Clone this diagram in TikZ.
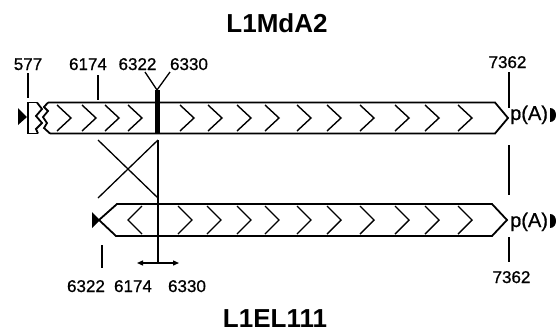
\documentclass[tikz,border=0pt]{standalone}
\usepackage{fontspec}
\setmainfont{Liberation Sans}
\newfontfamily\numfont[FakeBold=0.8]{Liberation Sans}
\usetikzlibrary{arrows.meta}
\begin{document}
\begin{tikzpicture}[x=1pt,y=-1pt,
  bar/.style={line width=1.8pt, line join=miter},
  chev/.style={line width=1.4pt},
  tick/.style={line width=1.3pt},
  num/.style={font=\numfont\fontsize{17}{17}\selectfont, anchor=base, inner sep=0pt},
  ttl/.style={font=\fontsize{26}{26}\selectfont\bfseries, anchor=base, inner sep=0pt},
  pa/.style={font=\numfont\fontsize{20}{20}\selectfont, anchor=base west, inner sep=0pt}]
\useasboundingbox (0,0) rectangle (557,333);
% titles
\node[ttl] (t1) at (277,32) {L1MdA2};
\node[ttl] (t2) at (275,327) {L1EL111};
% ---- top element
\draw[bar] (48,102.5) -- (495,102.5) -- (508,118) -- (495,133.5) -- (50,133.5);
\draw[bar] (48,102.5) -- (44,107) -- (48,111) -- (43,117) -- (47,123) -- (44,128) -- (50,133.5);
\draw[bar] (37,102.5) -- (28,102.5) -- (28,133.5) -- (38,133.5);
\draw[bar] (37,102.5) -- (42,109) -- (36,116) -- (42,123) -- (36,129) -- (38,133.5);
\fill (18,108) -- (27,117) -- (18,125) -- cycle;
\foreach \x in {57,82,105,128,180,208,237,265,297,327,360,395,425,458}
  \draw[chev] (\x,105) -- (\x+14,118) -- (\x,131);
\coordinate (yj) at (157,90);
\coordinate (yl) at (145,72);
\coordinate (yr) at (170,72);
\coordinate (yb) at (157,134);
\draw[line width=5pt] (yj) -- (yb);
\draw[tick] (yl) -- (yj) -- (yr);
% top labels
\node[num] (l577) at (28,70) {577};
\node[num] (l6174) at (88,70) {6174};
\node[num] (l6322) at (137.5,70) {6322};
\node[num] (l6330) at (189,70) {6330};
\node[num] (l7362) at (507.5,68) {7362};
\draw[tick] (28,73) -- (28,98);
\draw[tick] (98,75) -- (98,100);
\draw[tick] (509,72) -- (509,108);
\draw[tick] (509,145) -- (509,195);
\node[pa] (pa1) at (510,120) {p(A)};
\fill (550,108) .. controls (558,108) and (558,122) .. (550,122) -- cycle;
% ---- cross
\draw[tick] (98,140) -- (158,198);
\draw[tick] (98,198) -- (158,140);
\coordinate (vt) at (158,140);
\coordinate (vb) at (158,263);
\draw[tick] (vt) -- (vb);
\coordinate (al) at (137,263);
\coordinate (ar) at (179,263);
\draw[tick, {Triangle[length=6pt,width=5pt]}-{Triangle[length=6pt,width=5pt]}] (al) -- (ar);
% ---- bottom element
\draw[bar] (99,220) -- (117,204) -- (492,204) -- (507,220) -- (492,236) -- (116,236) -- cycle;
\fill (92,212) -- (100,220) -- (92,228) -- cycle;
\draw[chev] (142,206) -- (128,220) -- (142,234);
\foreach \x in {178,207,237,265,297,327,360,395,425,458}
  \draw[chev] (\x,206) -- (\x+14,220) -- (\x,234);
\node[pa] (pa2) at (510,227) {p(A)};
\fill (550,214) .. controls (558,214) and (558,228) .. (550,228) -- cycle;
\draw[tick] (102,245) -- (102,268);
\draw[tick] (509,237) -- (509,262);
% bottom labels
\node[num] (b6322) at (86,292) {6322};
\node[num] (b6174) at (133,292) {6174};
\node[num] (b6330) at (187,292) {6330};
\node[num] (b7362) at (511.5,283) {7362};
\end{tikzpicture}
\end{document}
